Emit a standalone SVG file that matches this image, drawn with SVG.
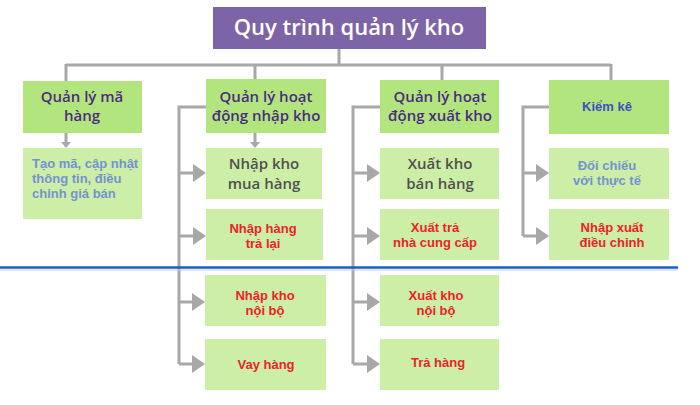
<svg xmlns="http://www.w3.org/2000/svg" width="700" height="405" viewBox="0 0 700 405">
<style>
.l1{fill:#b3e57f}
.l2{fill:#cdeea6}
.ln{fill:none;stroke:#a8a8a8;stroke-width:3}
.ah{fill:#a8a8a8}
.t1{font-family:"Open Sans",Lato,sans-serif;font-weight:600;font-size:15px;fill:#4b2b7f;text-anchor:middle}
.tg{font-family:"Open Sans",Lato,sans-serif;font-weight:600;font-size:15px;fill:#505050;text-anchor:middle}
.tr{font-family:"Liberation Sans",Arial,sans-serif;font-weight:700;font-size:13px;fill:#ee2228;text-anchor:middle}
.tb{font-family:"Liberation Sans",Arial,sans-serif;font-weight:700;font-size:13px;fill:#7393d0}
</style>
<defs>
<polygon id="big" points="-13,-9 0,0 -13,9"/>
<polygon id="sm" points="-5,-6 5,-6 0,0"/>
</defs>
<rect width="700" height="405" fill="#ffffff"/>
<g id="connectors">
<path class="ln" d="M339,49V65M66,65H611M66,64V81M255,64V79M442,64V80M611,64V80"/>
<path class="ln" d="M66,133V146M255,133V146"/>
<use href="#sm" x="66" y="148" class="ah"/>
<use href="#sm" x="255" y="148" class="ah"/>
<path class="ln" d="M206,107H179V364M179,173H196M179,236H196M179,302H196M179,364H196"/>
<use href="#big" x="206" y="173" class="ah"/>
<use href="#big" x="206" y="236" class="ah"/>
<use href="#big" x="205" y="302" class="ah"/>
<use href="#big" x="205" y="364" class="ah"/>
<path class="ln" d="M380,107H353V364M353,173H370M353,236H370M353,302H370M353,364H370"/>
<use href="#big" x="380" y="173" class="ah"/>
<use href="#big" x="380" y="236" class="ah"/>
<use href="#big" x="380" y="302" class="ah"/>
<use href="#big" x="380" y="364" class="ah"/>
<path class="ln" d="M549,107H523V236M523,173H540M523,236H540"/>
<use href="#big" x="549" y="173" class="ah"/>
<use href="#big" x="549" y="236" class="ah"/>
</g>
<g id="divider">
<line x1="0" y1="267.5" x2="678" y2="267.5" stroke="#1f5cbf" stroke-width="2.5"/>
<line x1="0" y1="270" x2="678" y2="270" stroke="#b9cdee" stroke-width="1"/>
</g>
<g id="title">
<rect x="213" y="7" width="273" height="42" fill="#7c64a6"/>
<text x="349" y="35" font-family="'Open Sans',Lato,sans-serif" font-weight="600" font-size="22" fill="#ffffff" text-anchor="middle">Quy trình quản lý kho</text>
</g>
<g id="n-ma-hang">
<rect class="l1" x="23" y="81" width="119" height="52"/>
<text class="t1" x="82" y="102">Quản lý mã</text>
<text class="t1" x="82" y="121">hàng</text>
</g>
<g id="n-nhap">
<rect class="l1" x="206" y="79" width="120" height="54"/>
<text class="t1" x="266" y="102">Quản lý hoạt</text>
<text class="t1" x="266" y="121">động nhập kho</text>
</g>
<g id="n-xuat">
<rect class="l1" x="380" y="80" width="119" height="53"/>
<text class="t1" x="440" y="102">Quản lý hoạt</text>
<text class="t1" x="440" y="121">động xuất kho</text>
</g>
<g id="n-kiem-ke">
<rect class="l1" x="549" y="80" width="120" height="54"/>
<text x="607" y="111" font-family="'Liberation Sans',Arial,sans-serif" font-weight="700" font-size="13" fill="#3d4fc4" text-anchor="middle">Kiểm kê</text>
</g>
<g id="n-tao-ma">
<rect class="l2" x="23" y="148" width="119" height="71"/>
<text class="tb" x="32" y="168">Tạo mã, cập nhật</text>
<text class="tb" x="32" y="183">thông tin, điều</text>
<text class="tb" x="32" y="198">chỉnh giá bán</text>
</g>
<g id="n-nhap-mua">
<rect class="l2" x="206" y="148" width="116" height="51"/>
<text class="tg" x="264" y="169">Nhập kho</text>
<text class="tg" x="264" y="189">mua hàng</text>
</g>
<g id="n-nhap-tra">
<rect class="l2" x="206" y="209" width="117" height="51"/>
<text class="tr" x="263" y="233">Nhập hàng</text>
<text class="tr" x="263" y="248">trả lại</text>
</g>
<g id="n-nhap-noi-bo">
<rect class="l2" x="205" y="275" width="121" height="51"/>
<text class="tr" x="265" y="300">Nhập kho</text>
<text class="tr" x="265" y="315">nội bộ</text>
</g>
<g id="n-vay">
<rect class="l2" x="205" y="339" width="121" height="51"/>
<text class="tr" x="266" y="369">Vay hàng</text>
</g>
<g id="n-xuat-ban">
<rect class="l2" x="380" y="148" width="119" height="51"/>
<text class="tg" x="440" y="169">Xuất kho</text>
<text class="tg" x="440" y="189">bán hàng</text>
</g>
<g id="n-xuat-tra">
<rect class="l2" x="380" y="209" width="119" height="51"/>
<text class="tr" x="435" y="232">Xuất trả</text>
<text class="tr" x="435" y="247">nhà cung cấp</text>
</g>
<g id="n-xuat-noi-bo">
<rect class="l2" x="380" y="275" width="119" height="51"/>
<text class="tr" x="436" y="300">Xuất kho</text>
<text class="tr" x="436" y="315">nội bộ</text>
</g>
<g id="n-tra-hang">
<rect class="l2" x="380" y="339" width="119" height="51"/>
<text class="tr" x="438" y="367">Trả hàng</text>
</g>
<g id="n-doi-chieu">
<rect class="l2" x="549" y="148" width="120" height="51"/>
<text class="tb" x="607" y="170" text-anchor="middle">Đối chiếu</text>
<text class="tb" x="607" y="185" text-anchor="middle">với thực tế</text>
</g>
<g id="n-dieu-chinh">
<rect class="l2" x="549" y="209" width="120" height="51"/>
<text class="tr" x="612" y="232">Nhập xuất</text>
<text class="tr" x="612" y="247">điều chỉnh</text>
</g>
</svg>
